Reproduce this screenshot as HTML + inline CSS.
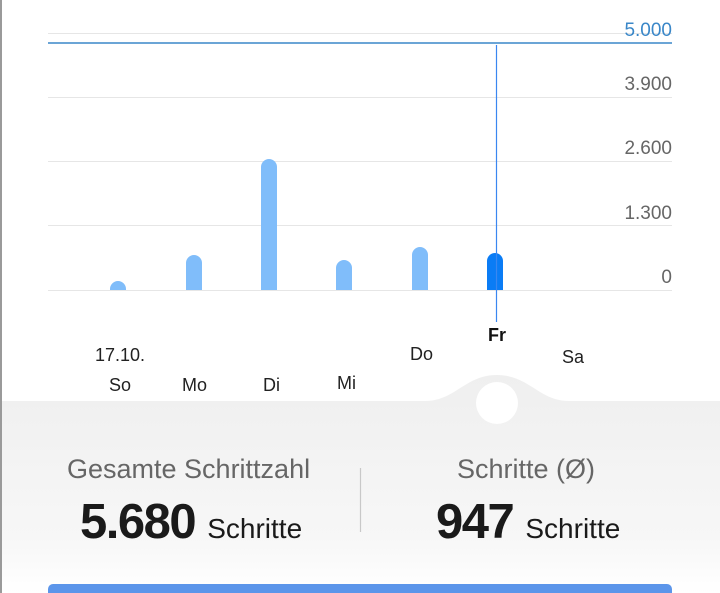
<!DOCTYPE html>
<html><head><style>
body{margin:0;width:720px;height:593px;overflow:hidden;background:#fff;font-family:"Liberation Sans",sans-serif;position:relative}
.t{position:absolute;white-space:nowrap}
</style></head><body>
<svg width="720" height="593" style="position:absolute;left:0;top:0">
<defs><linearGradient id="g" x1="0" y1="0" x2="0" y2="1">
<stop offset="0" stop-color="#efefef"/><stop offset="0.75" stop-color="#f7f7f7"/><stop offset="1" stop-color="#ffffff"/></linearGradient></defs>
<rect x="0" y="0" width="2" height="593" fill="#9a9a9a"/>
<g stroke="#e6e6e6" stroke-width="1">
<line x1="48" y1="33.5" x2="672" y2="33.5"/><line x1="48" y1="97.5" x2="672" y2="97.5"/>
<line x1="48" y1="161.5" x2="672" y2="161.5"/><line x1="48" y1="225.5" x2="672" y2="225.5"/>
<line x1="48" y1="290.5" x2="672" y2="290.5"/></g>
<line x1="48" y1="43" x2="672" y2="43" stroke="#3a87c8" stroke-width="1.5"/>
<g fill="#80bdfa">
<path d="M110 290 V290 A8 8 0 0 1 126 290 V290 Z M110 290 V289 A8 8 0 0 1 126 289 V290 Z"/>
<path d="M186 290 V263 A8 8 0 0 1 202 263 V290 Z"/>
<path d="M261 290 V167 A8 8 0 0 1 277 167 V290 Z"/>
<path d="M336 290 V268 A8 8 0 0 1 352 268 V290 Z"/>
<path d="M412 290 V255 A8 8 0 0 1 428 255 V290 Z"/>
</g>
<path d="M487 290 V261 A8 8 0 0 1 503 261 V290 Z" fill="#0a7cf5"/>
<line x1="496.5" y1="45" x2="496.5" y2="322" stroke="#3a87f0" stroke-width="1.2"/>
<path d="M2 401 L425 401 C455 401 465 375 497 375 C529 375 539 401 569 401 L720 401 L720 593 L2 593 Z" fill="url(#g)"/>
<circle cx="497" cy="403" r="21" fill="#fff"/>
<line x1="360.5" y1="468" x2="360.5" y2="532" stroke="#c8c8c8" stroke-width="1.2"/>
<rect x="48" y="584" width="624" height="14" rx="5" fill="#5b95ea"/>
</svg>
<div class="t" style="right:48px;top:20px;font-size:19px;color:#3a87c8">5.000</div>
<div class="t" style="right:48px;top:74px;font-size:19px;color:#666">3.900</div>
<div class="t" style="right:48px;top:138px;font-size:19px;color:#666">2.600</div>
<div class="t" style="right:48px;top:203px;font-size:19px;color:#666">1.300</div>
<div class="t" style="right:48px;top:267px;font-size:19px;color:#666">0</div>
<div class="t" style="left:95px;top:345px;font-size:18px;color:#222">17.10.</div>
<div class="t" style="left:109px;top:375px;font-size:18px;color:#222">So</div>
<div class="t" style="left:182px;top:375px;font-size:18px;color:#222">Mo</div>
<div class="t" style="left:263px;top:375px;font-size:18px;color:#222">Di</div>
<div class="t" style="left:337px;top:373px;font-size:18px;color:#222">Mi</div>
<div class="t" style="left:410px;top:344px;font-size:18px;color:#222">Do</div>
<div class="t" style="left:488px;top:325px;font-size:18px;color:#111;font-weight:bold">Fr</div>
<div class="t" style="left:562px;top:347px;font-size:18px;color:#222">Sa</div>
<div class="t" style="left:67px;top:454px;font-size:27px;color:#666">Gesamte Schrittzahl</div>
<div class="t" style="left:80px;top:494px;font-size:49px;color:#1a1a1a;font-weight:bold;letter-spacing:-1.5px">5.680 <span style="font-size:28px;font-weight:normal;letter-spacing:0">Schritte</span></div>
<div class="t" style="left:457px;top:454px;font-size:27px;color:#666">Schritte (Ø)</div>
<div class="t" style="left:436px;top:494px;font-size:49px;color:#1a1a1a;font-weight:bold;letter-spacing:-1.5px">947 <span style="font-size:28px;font-weight:normal;letter-spacing:0">Schritte</span></div>
</body></html>
